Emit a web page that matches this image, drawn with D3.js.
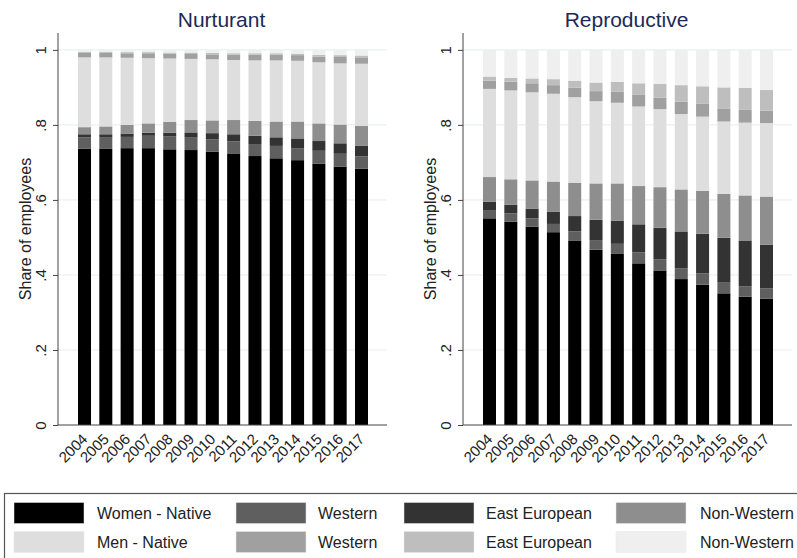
<!DOCTYPE html>
<html>
<head>
<meta charset="utf-8">
<script src="https://cdn.jsdelivr.net/npm/d3@7"></script>
<style>
  html, body { margin: 0; padding: 0; background: #ffffff; }
  svg { display: block; font-family: Arial, "Liberation Sans", Helvetica, sans-serif; }
</style>
</head>
<body>
<svg id="chart" width="797" height="558"></svg>
<script>
// ---------- DATA ----------
const years = ["2004","2005","2006","2007","2008","2009","2010","2011","2012","2013","2014","2015","2016","2017"];
const seriesKeys = ["wNative","wWestern","wEast","wNonWestern","mNative","mWestern","mEast","mNonWestern"];
const yTickValues = [0, 0.2, 0.4, 0.6, 0.8, 1];
const yTickLabels = ["0", ".2", ".4", ".6", ".8", "1"];
const panelTitles = ["Nurturant", "Reproductive"];
const yAxisTitle = "Share of employees";

// Nurturant shares
const nurWomenNative     = [.737,.736,.738,.738,.735,.733,.729,.724,.717,.711,.706,.697,.689,.683];
const nurWomenWestern    = [.030,.030,.030,.033,.034,.033,.032,.032,.032,.033,.032,.034,.034,.033];
const nurWomenEast       = [.008,.009,.009,.008,.010,.014,.017,.019,.022,.023,.026,.026,.028,.028];
const nurWomenNonWestern = [.019,.021,.023,.025,.029,.033,.034,.038,.040,.042,.045,.047,.050,.053];
const nurMenNative       = [.186,.184,.179,.174,.169,.163,.163,.160,.161,.163,.162,.163,.163,.166];
const nurMenWestern      = [.012,.012,.012,.013,.013,.013,.013,.014,.015,.015,.015,.015,.017,.017];
const nurMenEast         = [.003,.003,.003,.003,.003,.004,.004,.004,.004,.004,.004,.005,.005,.005];
const nurMenNonWestern   = [.005,.005,.006,.006,.007,.007,.008,.009,.009,.009,.010,.013,.014,.015];

// Reproductive shares
const repWomenNative     = [.551,.542,.529,.514,.492,.467,.456,.431,.412,.389,.374,.351,.342,.337];
const repWomenWestern    = [.022,.022,.022,.022,.024,.026,.027,.029,.030,.029,.030,.030,.028,.027];
const repWomenEast       = [.022,.023,.026,.032,.041,.054,.062,.075,.084,.098,.106,.118,.122,.117];
const repWomenNonWestern = [.066,.068,.075,.081,.089,.097,.099,.102,.108,.112,.114,.117,.120,.128];
const repMenNative       = [.235,.237,.235,.234,.228,.219,.215,.212,.208,.201,.198,.193,.194,.196];
const repMenWestern      = [.022,.023,.024,.023,.025,.027,.029,.031,.031,.033,.034,.035,.034,.033];
const repMenEast         = [.011,.010,.013,.016,.019,.023,.027,.031,.036,.044,.047,.056,.059,.055];
const repMenNonWestern   = [.071,.075,.076,.078,.082,.087,.085,.089,.091,.094,.097,.100,.101,.107];

const legendLabels = ["Women - Native","Western","East European","Non-Western","Men - Native","Western","East European","Non-Western"];
const colors = ["#000000","#5f5f5f","#333333","#8e8e8e","#dedede","#a0a0a0","#bebebe","#efefef"];

// ---------- BUILD ----------
function buildRows(arrs) {
  return years.map((y, i) => {
    const row = { year: y };
    seriesKeys.forEach((k, j) => row[k] = arrs[j][i]);
    return row;
  });
}
const panels = [
  { title: panelTitles[0], rows: buildRows([nurWomenNative,nurWomenWestern,nurWomenEast,nurWomenNonWestern,nurMenNative,nurMenWestern,nurMenEast,nurMenNonWestern]), axisX: 58, right: 387 },
  { title: panelTitles[1], rows: buildRows([repWomenNative,repWomenWestern,repWomenEast,repWomenNonWestern,repMenNative,repMenWestern,repMenEast,repMenNonWestern]), axisX: 463, right: 792 }
];

const svg = d3.select("#chart");
const yTop = 33, yBottom = 425;
const y = d3.scaleLinear().domain([0, 1.045]).range([yBottom, yTop]);
const color = d3.scaleOrdinal().domain(seriesKeys).range(colors);
const stack = d3.stack().keys(seriesKeys);

panels.forEach(p => {
  const g = svg.append("g");
  const x = d3.scaleBand().domain(years)
    .range([p.axisX + 15.85, p.right - 14.85])
    .paddingInner(0.39).paddingOuter(0.195);

  // gridlines
  g.append("g").selectAll("line").data(yTickValues.slice(1)).join("line")
    .attr("x1", p.axisX).attr("x2", p.right)
    .attr("y1", d => y(d)).attr("y2", d => y(d))
    .attr("stroke", "#e4eded").attr("stroke-width", 1);

  // bars
  const stacked = stack(p.rows);
  g.append("g").selectAll("g").data(stacked).join("g")
    .attr("fill", d => color(d.key))
    .selectAll("rect").data(d => d).join("rect")
    .attr("x", d => x(d.data.year))
    .attr("width", x.bandwidth())
    .attr("y", d => y(d[1]))
    .attr("height", d => y(d[0]) - y(d[1]));

  // y axis
  const yAxis = d3.axisLeft(y).tickValues(yTickValues)
    .tickFormat((d, i) => yTickLabels[i]).tickSize(5).tickSizeOuter(0);
  const ya = g.append("g").attr("transform", `translate(${p.axisX},0)`).call(yAxis);
  ya.select(".domain").attr("stroke", "#444").attr("d", `M0,${yTop}V${yBottom}`);
  ya.selectAll(".tick line").attr("stroke", "#444");
  ya.selectAll(".tick text")
    .attr("font-size", 15).attr("fill", "#222").attr("font-family", "Arial, 'Liberation Sans', sans-serif")
    .attr("x", 0).attr("dy", 0).attr("text-anchor", "middle")
    .attr("transform", "translate(-12,0) rotate(-90)");

  // x axis
  const xAxis = d3.axisBottom(x).tickSize(0).tickSizeOuter(0);
  const xa = g.append("g").attr("transform", `translate(0,${yBottom})`).call(xAxis);
  xa.select(".domain").attr("stroke", "#444").attr("d", `M${p.axisX},0H${p.right}`);
  xa.selectAll(".tick text")
    .attr("font-size", 15).attr("fill", "#222").attr("font-family", "Arial, 'Liberation Sans', sans-serif")
    .attr("y", 0).attr("dy", 0).attr("text-anchor", "end")
    .attr("transform", "translate(4,15) rotate(-45)");

  // title
  g.append("text").attr("x", (p.axisX + p.right) / 2 - 1).attr("y", 27)
    .attr("text-anchor", "middle").attr("font-size", 21).attr("fill", "#1a2a57")
    .text(p.title);

  // y title
  g.append("text").attr("transform", `translate(${p.axisX - 27},${(yTop + yBottom) / 2}) rotate(-90)`)
    .attr("text-anchor", "middle").attr("font-size", 16).attr("fill", "#222")
    .text(yAxisTitle);
});

// ---------- LEGEND ----------
const lg = svg.append("g");
lg.append("rect").attr("x", 4.5).attr("y", 493.5).attr("width", 800).attr("height", 80)
  .attr("fill", "#ffffff").attr("stroke", "#555").attr("stroke-width", 1.2);
const colSwatchX = [14, 236, 404, 616];
const colTextX = [97, 318, 486, 700];
const rowY = [502.5, 531.5];
seriesKeys.forEach((k, i) => {
  const col = i % 4, row = Math.floor(i / 4);
  lg.append("rect").attr("x", colSwatchX[col]).attr("y", rowY[row])
    .attr("width", 70).attr("height", 21).attr("fill", color(k))
    .attr("stroke", "#e8e8e8").attr("stroke-width", 0.5);
  lg.append("text").attr("x", colTextX[col]).attr("y", rowY[row] + 10.5)
    .attr("dy", "0.36em").attr("font-size", 16).attr("fill", "#222")
    .text(legendLabels[i]);
});
</script>
</body>
</html>
